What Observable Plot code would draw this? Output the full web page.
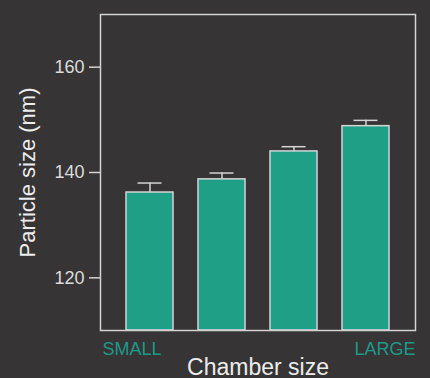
<!DOCTYPE html>
<html>
<head>
<meta charset="utf-8">
<script src="https://cdn.jsdelivr.net/npm/d3@7"></script>
<script src="https://cdn.jsdelivr.net/npm/@observablehq/plot@0.6"></script>
<style>
  html, body { margin: 0; padding: 0; background: #363435; }
  #chart svg { display: block; font-family: "Liberation Sans", Arial, sans-serif; }
</style>
</head>
<body>
<div id="chart"></div>
<script>
const categories = ["1", "2", "3", "4"];
const means = [136.2, 138.7, 144.0, 148.8];
const upper = [138.0, 139.9, 144.9, 149.9];
const yTicks = [120, 140, 160];
const yDomain = [110, 170];
const endLabels = ["SMALL", "LARGE"];
const xTitle = "Chamber size";
const yTitle = "Particle size (nm)";

const data = categories.map((c, i) => ({cat: c, mean: means[i], up: upper[i]}));

const teal = "#1f9f85";
const labelTeal = "#1d9a88";
const line = "#d4d4d4";
const font = '"Liberation Sans", Arial, sans-serif';

const chart = Plot.plot({
  width: 430,
  height: 378,
  marginLeft: 100,
  marginTop: 14,
  marginRight: 15,
  marginBottom: 48,
  style: {background: "#363435", fontFamily: font, color: "#e6e6e6", overflow: "visible"},
  x: {domain: categories, padding: 0.35, axis: null},
  y: {domain: yDomain, ticks: yTicks, tickSize: 11, tickPadding: 5, label: null},
  marks: [
    Plot.axisY({ticks: yTicks, tickSize: 11, tickPadding: 5, fontSize: 18, stroke: line, strokeWidth: 1.5, fill: "#dcdcdc", label: null}),
    Plot.ruleX(data, {x: "cat", y1: "mean", y2: "up", stroke: line, strokeWidth: 1.5}),
    Plot.tickY(data, {x: "cat", y: "up", stroke: line, strokeWidth: 1.5, insetLeft: 11.5, insetRight: 11.5}),
    Plot.barY(data, {x: "cat", y1: () => yDomain[0], y2: "mean", fill: teal, stroke: line, strokeWidth: 1.5}),
    Plot.frame({stroke: line, strokeWidth: 1.5}),
    Plot.text([endLabels[0]], {frameAnchor: "bottom-left", text: d => d, textAnchor: "start", dy: 12, dx: 2, fontSize: 18, fill: labelTeal, lineAnchor: "top"}),
    Plot.text([endLabels[1]], {frameAnchor: "bottom-right", text: d => d, textAnchor: "end", dy: 12, dx: 0, fontSize: 18, fill: labelTeal, lineAnchor: "top"}),
    Plot.text([xTitle], {frameAnchor: "bottom", text: d => d, dy: 44, fontSize: 23, fill: "#ededed", lineAnchor: "bottom"}),
    Plot.text([yTitle], {frameAnchor: "left", text: d => d, dx: -73, rotate: -90, fontSize: 22, fill: "#ededed", textAnchor: "middle", lineAnchor: "middle"})
  ]
});
document.getElementById("chart").append(chart);
</script>
</body>
</html>
